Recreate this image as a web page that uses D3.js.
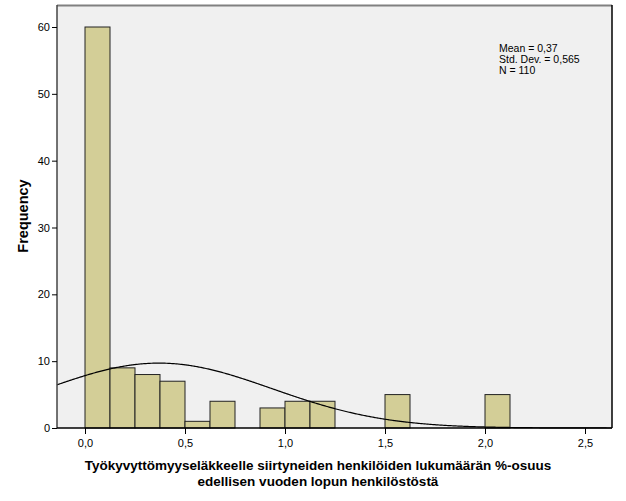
<!DOCTYPE html>
<html><head><meta charset="utf-8">
<script src="https://cdn.jsdelivr.net/npm/d3@7"></script>
<style>body{margin:0;background:#fff}svg{display:block}text{font-family:"Liberation Sans",Arial,sans-serif}</style>
</head><body>
<script>
const binStarts = [0, 0.125, 0.25, 0.375, 0.5, 0.625, 0.875, 1.0, 1.125, 1.5, 2.0];
const binCounts = [60, 9, 8, 7, 1, 4, 3, 4, 4, 5, 5];
const binWidth = 0.125;
const xTicks = [0, 0.5, 1.0, 1.5, 2.0, 2.5];
const yTicks = [0, 10, 20, 30, 40, 50, 60];
const stats = {mean: 0.37, sd: 0.565, n: 110};
const statLabels = ["Mean = 0,37", "Std. Dev. = 0,565", "N = 110"];

const W = 626, H = 501;
const L = 57, R = 612, T = 5, B = 428;
const svg = d3.select("body").append("svg").attr("width", W).attr("height", H);
const x = d3.scaleLinear().domain([0, 2.5]).range([85, 585]);
const y = d3.scaleLinear().domain([0, 60]).range([B, 27]);

svg.append("rect").attr("x", L).attr("y", T).attr("width", R - L).attr("height", B - T).attr("fill", "#f0f0f0");

const g = svg.append("g");
binStarts.forEach((s, i) => {
  g.append("rect")
    .attr("x", x(s)).attr("y", y(binCounts[i]))
    .attr("width", x(s + binWidth) - x(s))
    .attr("height", y(0) - y(binCounts[i]))
    .attr("fill", "#d3ce97").attr("stroke", "#222").attr("stroke-width", 1);
});

// normal curve
const xs = d3.range(x.invert(L), x.invert(R) + 0.001, 0.005);
const dens = v => stats.n * binWidth / (stats.sd * Math.sqrt(2 * Math.PI)) * Math.exp(-0.5 * ((v - stats.mean) / stats.sd) ** 2);
svg.append("path").datum(xs)
  .attr("d", d3.line().x(d => x(d)).y(d => y(dens(d))))
  .attr("fill", "none").attr("stroke", "#000").attr("stroke-width", 1.2);

// frame
svg.append("line").attr("x1", L).attr("x2", R).attr("y1", T + 0.5).attr("y2", T + 0.5).attr("stroke", "#808080").attr("stroke-width", 2);
svg.append("line").attr("x1", R).attr("x2", R).attr("y1", T).attr("y2", B).attr("stroke", "#000").attr("stroke-width", 1.5);
svg.append("line").attr("x1", L).attr("x2", L).attr("y1", T).attr("y2", B).attr("stroke", "#444").attr("stroke-width", 1.5);

// axes
const xAxis = svg.append("g").attr("transform", `translate(0,${B})`)
  .call(d3.axisBottom(x).tickValues(xTicks).tickSize(6).tickPadding(5).tickFormat(d => d3.format(".1f")(d).replace(".", ",")));
xAxis.select(".domain").remove();
xAxis.append("line").attr("x1", L).attr("x2", R).attr("stroke", "#000").attr("stroke-width", 1.5);
const yAxis = svg.append("g").attr("transform", `translate(${L},0)`)
  .call(d3.axisLeft(y).tickValues(yTicks).tickSize(5).tickPadding(2));
yAxis.select(".domain").remove();
svg.selectAll(".tick text").attr("font-size", 11).attr("fill", "#000").attr("font-family", "Liberation Sans, Arial, sans-serif");
svg.selectAll(".tick line").attr("stroke", "#000");

// stats text
svg.append("g").selectAll("text").data(statLabels).join("text")
  .attr("x", 499).attr("y", (d, i) => 52 + i * 11)
  .attr("font-size", 10.5).text(d => d);

// labels
svg.append("text").attr("transform", "translate(28,216) rotate(-90)")
  .attr("text-anchor", "middle").attr("font-size", 14.5).attr("font-weight", "bold").text("Frequency");
svg.append("text").attr("x", 318).attr("y", 470).attr("text-anchor", "middle")
  .attr("font-size", 13.5).attr("font-weight", "bold").text("Työkyvyttömyyseläkkeelle siirtyneiden henkilöiden lukumäärän %-osuus");
svg.append("text").attr("x", 318).attr("y", 485.5).attr("text-anchor", "middle")
  .attr("font-size", 13.5).attr("font-weight", "bold").text("edellisen vuoden lopun henkilöstöstä");
</script>
</body></html>
